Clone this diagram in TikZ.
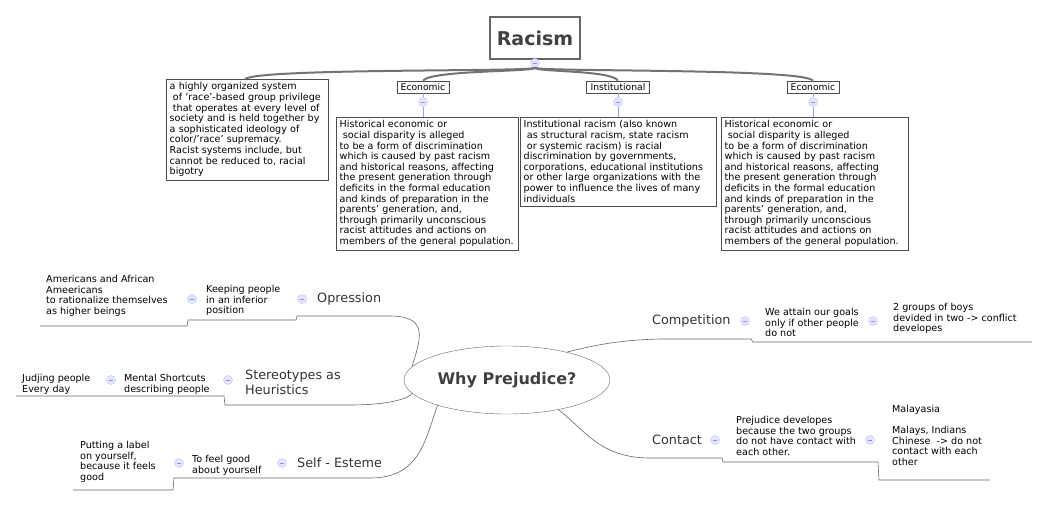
\documentclass[tikz,border=0pt]{standalone}
\usepackage{fontspec}
\setmainfont{DejaVu Sans}
\usetikzlibrary{shapes.geometric}
\begin{document}
\begin{tikzpicture}[x=1pt,y=-1pt,
  txt/.style={anchor=north west,inner sep=0pt,align=left,font=\fontsize{9.6}{10.6}\selectfont},
  box/.style={anchor=north west,draw=black!70,inner sep=3.5pt,align=left,font=\fontsize{9.6}{10.6}\selectfont},
  lbl/.style={draw=black!70,inner xsep=4pt,inner ysep=2.5pt,font=\fontsize{9.2}{10}\selectfont},
  big/.style={anchor=west,inner sep=0pt,align=left,font=\fontsize{12.8}{15}\selectfont,text=black!80},
  ln/.style={draw=black!60,line width=0.6pt},
  thick/.style={draw=black!55,line width=2pt},
  col/.style={circle,draw=blue!25,fill=blue!10,minimum size=9pt,inner sep=0pt,
    path picture={\draw[blue!45,line width=0.7pt](path picture bounding box.center)+(-2.3pt,0)--+(2.3pt,0);}}]
\useasboundingbox (0,0) rectangle (1043,506);
% top
\node[draw=black!60,line width=2.4pt,minimum width=90pt,minimum height=42pt,font=\bfseries\fontsize{19}{20}\selectfont,text=black!75] (rac) at (535,38) {Racism};
\node[col] (rc) at (535,63) {};
\node[box,text width=155pt] (def) at (166,79) {a highly organized system\\ \ of 'race'-based group privilege\\ \ that operates at every level of\\society and is held together by\\a sophisticated ideology of\\color/'race' supremacy.\\Racist systems include, but\\cannot be reduced to, racial\\bigotry};
\node[lbl] (e1) at (423,87) {Economic};
\node[lbl] (in) at (618,87) {Institutional};
\node[lbl] (e2) at (813,87) {Economic};
\draw[thick] (rc.south) .. controls (535,72) and (260,68) .. (245,79);
\draw[thick] (rc.south) .. controls (535,72) and (430,70) .. (e1.north);
\draw[thick] (rc.south) .. controls (535,72) and (612,70) .. (in.north);
\draw[thick] (rc.south) .. controls (535,72) and (805,68) .. (e2.north);
\node[col] (e1c) at (423,102) {};
\node[col] (inc) at (618,102) {};
\node[col] (e2c) at (813,102) {};
\draw[ln,blue!40] (e1.south)--(e1c) (e1c)--(423,117);
\draw[ln,blue!40] (in.south)--(inc) (inc)--(618,117);
\draw[ln,blue!40] (e2.south)--(e2c) (e2c)--(813,117);
\def\hist{Historical economic or\\ \ social disparity is alleged\\to be a form of discrimination\\which is caused by past racism\\and historical reasons, affecting\\the present generation through\\deficits in the formal education\\and kinds of preparation in the\\parents' generation, and,\\through primarily unconscious\\racist attitudes and actions on\\members of the general population.}
\node[box,text width=175pt] (h1) at (336,117) {\hist};
\node[box,text width=189pt] (ins) at (520,117) {Institutional racism (also known\\ \ as structural racism, state racism\\ \ or systemic racism) is racial\\discrimination by governments,\\corporations, educational institutions\\or other large organizations with the\\power to influence the lives of many\\individuals};
\node[box,text width=180pt] (h2) at (721,117) {\hist};
% center
\node[draw=black!60,ellipse,minimum width=194pt,minimum height=68pt,font=\bfseries\fontsize{16}{18}\selectfont,text=black!75] (wp) at (507,380) {Why Prejudice?};
% Opression
\node[big] (op) at (317,299) {Opression};
\node[col] (opc) at (302,299) {};
\node[txt] (kp) at (206,285) {Keeping people\\in an inferior\\position};
\node[col] (kpc) at (192,299) {};
\node[txt] (am) at (46,275) {Americans and African\\Ameericans\\to rationalize themselves\\as higher beings};
\draw[ln] (wp.172) .. controls (420,340) and (430,316) .. (390,316) -- (297,316) -- (296,320) -- (188,320) -- (187,326) -- (40,326);
% Stereotypes
\node[big] (st) at (245,382) {Stereotypes as\\Heuristics};
\node[col] (stc) at (228,380) {};
\node[txt] (ms) at (124,374) {Mental Shortcuts\\describing people};
\node[col] (msc) at (111,380) {};
\node[txt] (jp) at (22,374) {Judjing people\\Every day};
\draw[ln] (wp.188) .. controls (410,398) and (390,405) .. (350,405) -- (225,405) -- (224,396) -- (16,396);
% Self
\node[big] (se) at (297,463) {Self - Esteme};
\node[col] (sec) at (282,463) {};
\node[txt] (fg) at (192,455) {To feel good\\about yourself};
\node[col] (fgc) at (179,463) {};
\node[txt] (pl) at (80,441) {Putting a label\\on yourself,\\because it feels\\good};
\draw[ln] (wp.200) .. controls (425,440) and (420,478) .. (370,478) -- (278,478) -- (174,478) -- (173,490) -- (73,490);
% Competition
\node[big] (co) at (652,321) {Competition};
\node[col] (coc) at (745,321) {};
\node[txt] (wa) at (765,308) {We attain our goals\\only if other people\\do not};
\node[col] (wac) at (873,321) {};
\node[txt] (gb) at (893,303) {2 groups of boys\\devided in two -> conflict\\developes};
\draw[ln] (wp.25) .. controls (595,345) and (620,340) .. (660,339) -- (751,339) -- (753,342) -- (1032,342);
% Contact
\node[big] (ct) at (652,440) {Contact};
\node[col] (ctc) at (715,440) {};
\node[txt] (pd) at (736,416) {Prejudice developes\\because the two groups\\do not have contact with\\each other.};
\node[col] (pdc) at (870,440) {};
\node[txt] (ml) at (892,405) {Malayasia\\[10.6pt]Malays, Indians\\Chinese \ -> do not\\contact with each\\other};
\draw[ln] (wp.330) .. controls (585,430) and (600,458) .. (650,458) -- (722,458) -- (723,462) -- (878,462) -- (879,480) -- (990,480);
\end{tikzpicture}
\end{document}
